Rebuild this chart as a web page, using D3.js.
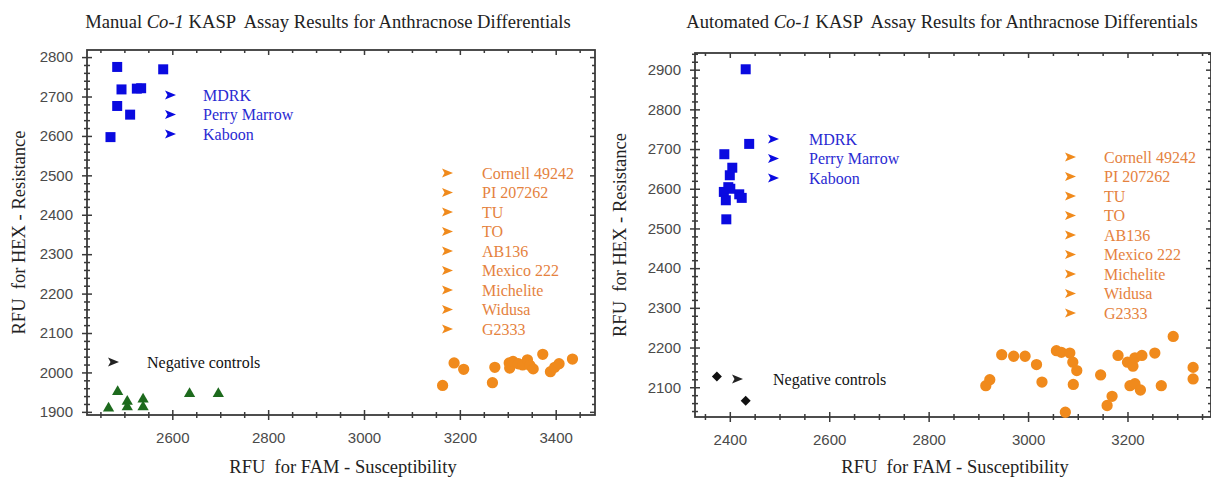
<!DOCTYPE html>
<html>
<head>
<meta charset="utf-8">
<script src="https://cdn.jsdelivr.net/npm/d3@7"></script>
<style>
  body { margin: 0; background: #fff; }
  svg text { font-family: "Liberation Serif", "Times New Roman", serif; }
  .tick text { font-family: "Liberation Sans", Arial, sans-serif; }
</style>
</head>
<body>
<svg id="chart" width="1211" height="477"></svg>
<script>
// ---- data: [FAM RFU, HEX RFU] ----
const manualResistant = [[2485,2775],[2581,2769],[2494,2718],[2526,2720],[2535,2721],[2485,2676],[2512,2654],[2471,2597]];
const manualSusceptible = [[3164,1967],[3188,2024],[3208,2008],[3268,1974],[3273,2013],[3303,2024],[3304,2011],[3311,2028],
  [3322,2022],[3331,2019],[3341,2032],[3346,2018],[3353,2009],[3373,2046],[3389,2002],[3398,2013],[3407,2022],[3435,2034]];
const manualNegative = [[2467,1909],[2486,1951],[2506,1926],[2506,1912],[2539,1932],[2539,1912],[2636,1946],[2696,1946]];

const autoResistant = [[2432,2901],[2439,2713],[2389,2687],[2405,2653],[2400,2634],[2397,2604],[2388,2592],[2392,2571],
  [2419,2586],[2424,2577],[2393,2523],[2401,2600]];
const autoSusceptible = [[2915,2104],[2923,2119],[2947,2182],[2971,2178],[2994,2178],[3017,2157],[3028,2113],[3057,2192],
  [3067,2188],[3084,2186],[3090,2163],[3098,2142],[3091,2107],[3075,2037],[3146,2131],[3159,2054],[3169,2077],[3181,2180],
  [3200,2163],[3205,2104],[3211,2153],[3215,2174],[3215,2109],[3226,2093],[3229,2180],[3255,2186],[3268,2104],[3292,2228],
  [3332,2150],[3332,2121]];
const autoNegative = [[2374,2127],[2432,2066]];

const resistantLabels = ["MDRK", "Perry Marrow", "Kaboon"];
const susceptibleLabels = ["Cornell 49242", "PI 207262", "TU", "TO", "AB136", "Mexico 222", "Michelite", "Widusa", "G2333"];
const negativeLabel = "Negative controls";

const manualXTicks = [2600, 2800, 3000, 3200, 3400];
const manualYTicks = [1900, 2000, 2100, 2200, 2300, 2400, 2500, 2600, 2700, 2800];
const autoXTicks = [2400, 2600, 2800, 3000, 3200];
const autoYTicks = [2100, 2200, 2300, 2400, 2500, 2600, 2700, 2800, 2900];

const blue = "#0a0ae0", orange = "#f08a1c", green = "#1d6a1d";
const blueText = "#2a2ad2", orangeText = "#e5823e";

const svg = d3.select("#chart");

function drawPanel(p) {
  const x = d3.scaleLinear().domain(p.xDomain).range([p.left, p.right]);
  const y = d3.scaleLinear().domain(p.yDomain).range([p.bottom, p.top]);
  const g = svg.append("g");

  const minorX = d3.range(Math.ceil(p.xDomain[0] / 50) * 50, p.xDomain[1], 50).filter(v => v % 200 !== 0);
  const minorY = d3.range(Math.ceil(p.yDomain[0] / 20) * 20, p.yDomain[1], 20).filter(v => v % 100 !== 0);

  // frame
  g.append("rect")
    .attr("x", p.left).attr("y", p.top)
    .attr("width", p.right - p.left).attr("height", p.bottom - p.top)
    .attr("fill", "none").attr("stroke", "#3a3a3a").attr("stroke-width", 1.8);

  const styleAxis = sel => {
    sel.select(".domain").remove();
    sel.selectAll(".tick line").attr("stroke", "#3a3a3a").attr("stroke-width", 1.5);
    sel.selectAll(".tick text").attr("fill", "#4a4a4a").attr("font-size", 15);
  };
  const fmt = d3.format("d");

  // bottom
  g.append("g").attr("transform", `translate(0,${p.bottom})`)
    .call(d3.axisBottom(x).tickValues(p.xTicks).tickFormat(fmt).tickSize(5).tickPadding(12))
    .call(styleAxis)
    .call(s => s.selectAll(".tick line").attr("y1", -5));
  g.append("g").attr("transform", `translate(0,${p.bottom})`)
    .call(d3.axisBottom(x).tickValues(minorX).tickSize(3).tickFormat(""))
    .call(styleAxis)
    .call(s => s.selectAll(".tick line").attr("y1", -3));
  // left
  g.append("g").attr("transform", `translate(${p.left},0)`)
    .call(d3.axisLeft(y).tickValues(p.yTicks).tickFormat(fmt).tickSize(5).tickPadding(9))
    .call(styleAxis)
    .call(s => s.selectAll(".tick line").attr("x1", 5));
  g.append("g").attr("transform", `translate(${p.left},0)`)
    .call(d3.axisLeft(y).tickValues(minorY).tickSize(3).tickFormat(""))
    .call(styleAxis)
    .call(s => s.selectAll(".tick line").attr("x1", 3));
  // top and right mirrors
  g.append("g").attr("transform", `translate(0,${p.top})`)
    .call(d3.axisTop(x).tickValues(p.xTicks).tickSize(-5).tickFormat("")).call(styleAxis);
  g.append("g").attr("transform", `translate(0,${p.top})`)
    .call(d3.axisTop(x).tickValues(minorX).tickSize(-3).tickFormat("")).call(styleAxis);
  g.append("g").attr("transform", `translate(${p.right},0)`)
    .call(d3.axisRight(y).tickValues(p.yTicks).tickSize(-5).tickFormat("")).call(styleAxis);
  g.append("g").attr("transform", `translate(${p.right},0)`)
    .call(d3.axisRight(y).tickValues(minorY).tickSize(-3).tickFormat("")).call(styleAxis);

  // points
  const pts = (data, type, size, fill, rot) => g.append("g").selectAll("path")
    .data(data).join("path")
    .attr("transform", d => `translate(${x(d[0])},${y(d[1])}) rotate(${rot || 0})`)
    .attr("d", d3.symbol(type, size))
    .attr("fill", fill);
  pts(p.susceptible, d3.symbolCircle, 100, orange);
  pts(p.resistant, d3.symbolSquare, 100, blue);
  pts(p.negative, p.negType, p.negSize, p.negColor, p.negRot);

  // legends
  const arrow = "M-5,-4.5 L6,0 L-5,4.5 L-2.5,0 Z";
  const legend = (labels, ax, tx, y0, step, col, acol) => {
    labels.forEach((t, i) => {
      g.append("path").attr("d", arrow)
        .attr("transform", `translate(${ax},${y0 + i * step})`).attr("fill", acol);
      g.append("text").attr("x", tx).attr("y", y0 + i * step + 5.5)
        .attr("font-size", 16).attr("fill", col).text(t);
    });
  };
  legend(resistantLabels, p.resLeg[0], p.resLeg[1], p.resLeg[2], 19.5, blueText, blue);
  legend(susceptibleLabels, p.susLeg[0], p.susLeg[1], p.susLeg[2], 19.5, orangeText, orange);
  legend([negativeLabel], p.negLeg[0], p.negLeg[1], p.negLeg[2], 0, "#111", "#222");

  // titles
  const title = svg.append("text")
    .attr("x", p.titleX).attr("y", 28).attr("text-anchor", "middle")
    .attr("font-size", 18.6).attr("fill", "#222")
    .attr("xml:space", "preserve");
  title.append("tspan").text(p.titleWord + " ");
  title.append("tspan").attr("font-style", "italic").text("Co-1");
  title.append("tspan").text(" KASP  Assay Results for Anthracnose Differentials");

  svg.append("text")
    .attr("x", (p.left + p.right) / 2 + 2).attr("y", 473).attr("text-anchor", "middle")
    .attr("font-size", 18.5).attr("fill", "#222")
    .attr("xml:space", "preserve")
    .text("RFU  for FAM - Susceptibility");
  svg.append("text")
    .attr("transform", `translate(${p.yLabelX},${(p.top + p.bottom) / 2}) rotate(-90)`)
    .attr("text-anchor", "middle").attr("font-size", 18.5).attr("fill", "#222")
    .attr("xml:space", "preserve")
    .text("RFU  for HEX - Resistance");
}

drawPanel({
  left: 87, right: 595, top: 50, bottom: 415,
  xDomain: [2422, 3482], yDomain: [1892, 2818],
  xTicks: manualXTicks, yTicks: manualYTicks,
  resistant: manualResistant, susceptible: manualSusceptible, negative: manualNegative,
  negType: d3.symbolTriangle, negSize: 55, negColor: green, negRot: 0,
  resLeg: [170, 203, 95], susLeg: [447, 482, 173], negLeg: [113, 147, 362],
  titleWord: "Manual", titleX: 328, yLabelX: 25
});

drawPanel({
  left: 695, right: 1211, top: 53, bottom: 417,
  xDomain: [2330, 3368], yDomain: [2025, 2942],
  xTicks: autoXTicks, yTicks: autoYTicks,
  resistant: autoResistant, susceptible: autoSusceptible, negative: autoNegative,
  negType: d3.symbolSquare, negSize: 50, negColor: "#111", negRot: 45,
  resLeg: [773, 809, 139], susLeg: [1070, 1104, 157], negLeg: [737, 773, 379],
  titleWord: "Automated", titleX: 942, yLabelX: 626
});
</script>
</body>
</html>
